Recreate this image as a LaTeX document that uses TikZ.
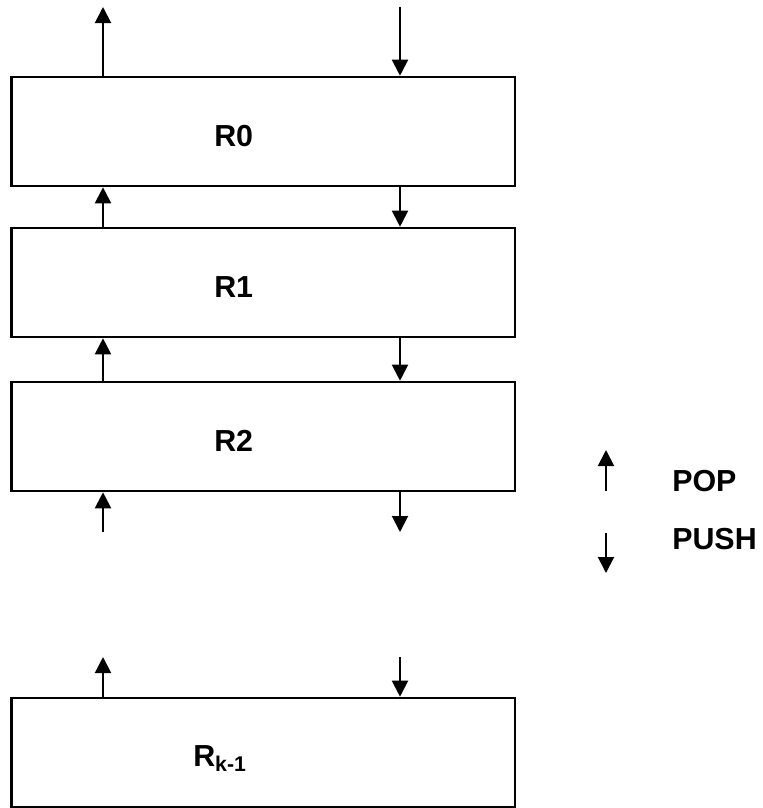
\documentclass[tikz,border=0pt]{standalone}
\usepackage{fontspec}
\setmainfont{Liberation Sans}
\usepackage{tikz}
\usetikzlibrary{positioning, arrows.meta, calc}
\tikzset{
  regbox/.style={draw, line width=1.9pt, minimum width=377.6pt, minimum height=81.8pt, inner sep=0pt},
  reglabel/.style={font=\fontsize{22.8}{27}\selectfont\bfseries, inner sep=0pt, anchor=base west},
  stackarrow/.style={line width=1.5pt, -{Triangle[length=12pt, width=12pt]}}
}

\begin{document}
\begin{tikzpicture}[x=0.75pt, y=-0.75pt]
  \useasboundingbox (0,0) rectangle (763,808);
  % register boxes
  \node[regbox] (r0) at (263.4,131.5) {};
  \node[regbox] (r1) at (263.4,282.5) {};
  \node[regbox] (r2) at (263.4,436.5) {};
  \node[regbox] (rk) at (263.4,752.5) {};
  \node[reglabel] (r0text) at (214,146) {R0};
  \node[reglabel] (r1text) at (214,297) {R1};
  \node[reglabel] (r2text) at (214,451) {R2};
  \node[reglabel] (rktext) at (193,766) {R\textsubscript{k-1}};
  % arrow columns
  \coordinate (upx) at (103,0);
  \coordinate (downx) at (400,0);
  \coordinate (topend) at (0,7);
  \coordinate (midend) at (0,532);
  \coordinate (lowend) at (0,657);
  % pop (up)
  \draw[stackarrow] (r0.north -| upx) -- (topend -| upx);
  \draw[stackarrow] (r1.north -| upx) -- (r0.south -| upx);
  \draw[stackarrow] (r2.north -| upx) -- (r1.south -| upx);
  \draw[stackarrow] (midend -| upx) -- (r2.south -| upx);
  \draw[stackarrow] (rk.north -| upx) -- (lowend -| upx);
  % push (down)
  \draw[stackarrow] (topend -| downx) -- (r0.north -| downx);
  \draw[stackarrow] (r0.south -| downx) -- (r1.north -| downx);
  \draw[stackarrow] (r1.south -| downx) -- (r2.north -| downx);
  \draw[stackarrow] (r2.south -| downx) -- (midend -| downx);
  \draw[stackarrow] (lowend -| downx) -- (rk.north -| downx);
  % legend
  \coordinate (popstart) at (606,491);
  \coordinate (popend) at (606,450);
  \coordinate (pushstart) at (606,533);
  \coordinate (pushend) at (606,573);
  \draw[stackarrow] (popstart) -- (popend);
  \draw[stackarrow] (pushstart) -- (pushend);
  \node[reglabel] (poptext) at (672,491) {POP};
  \node[reglabel] (pushtext) at (672,549) {PUSH};
\end{tikzpicture}
\end{document}
